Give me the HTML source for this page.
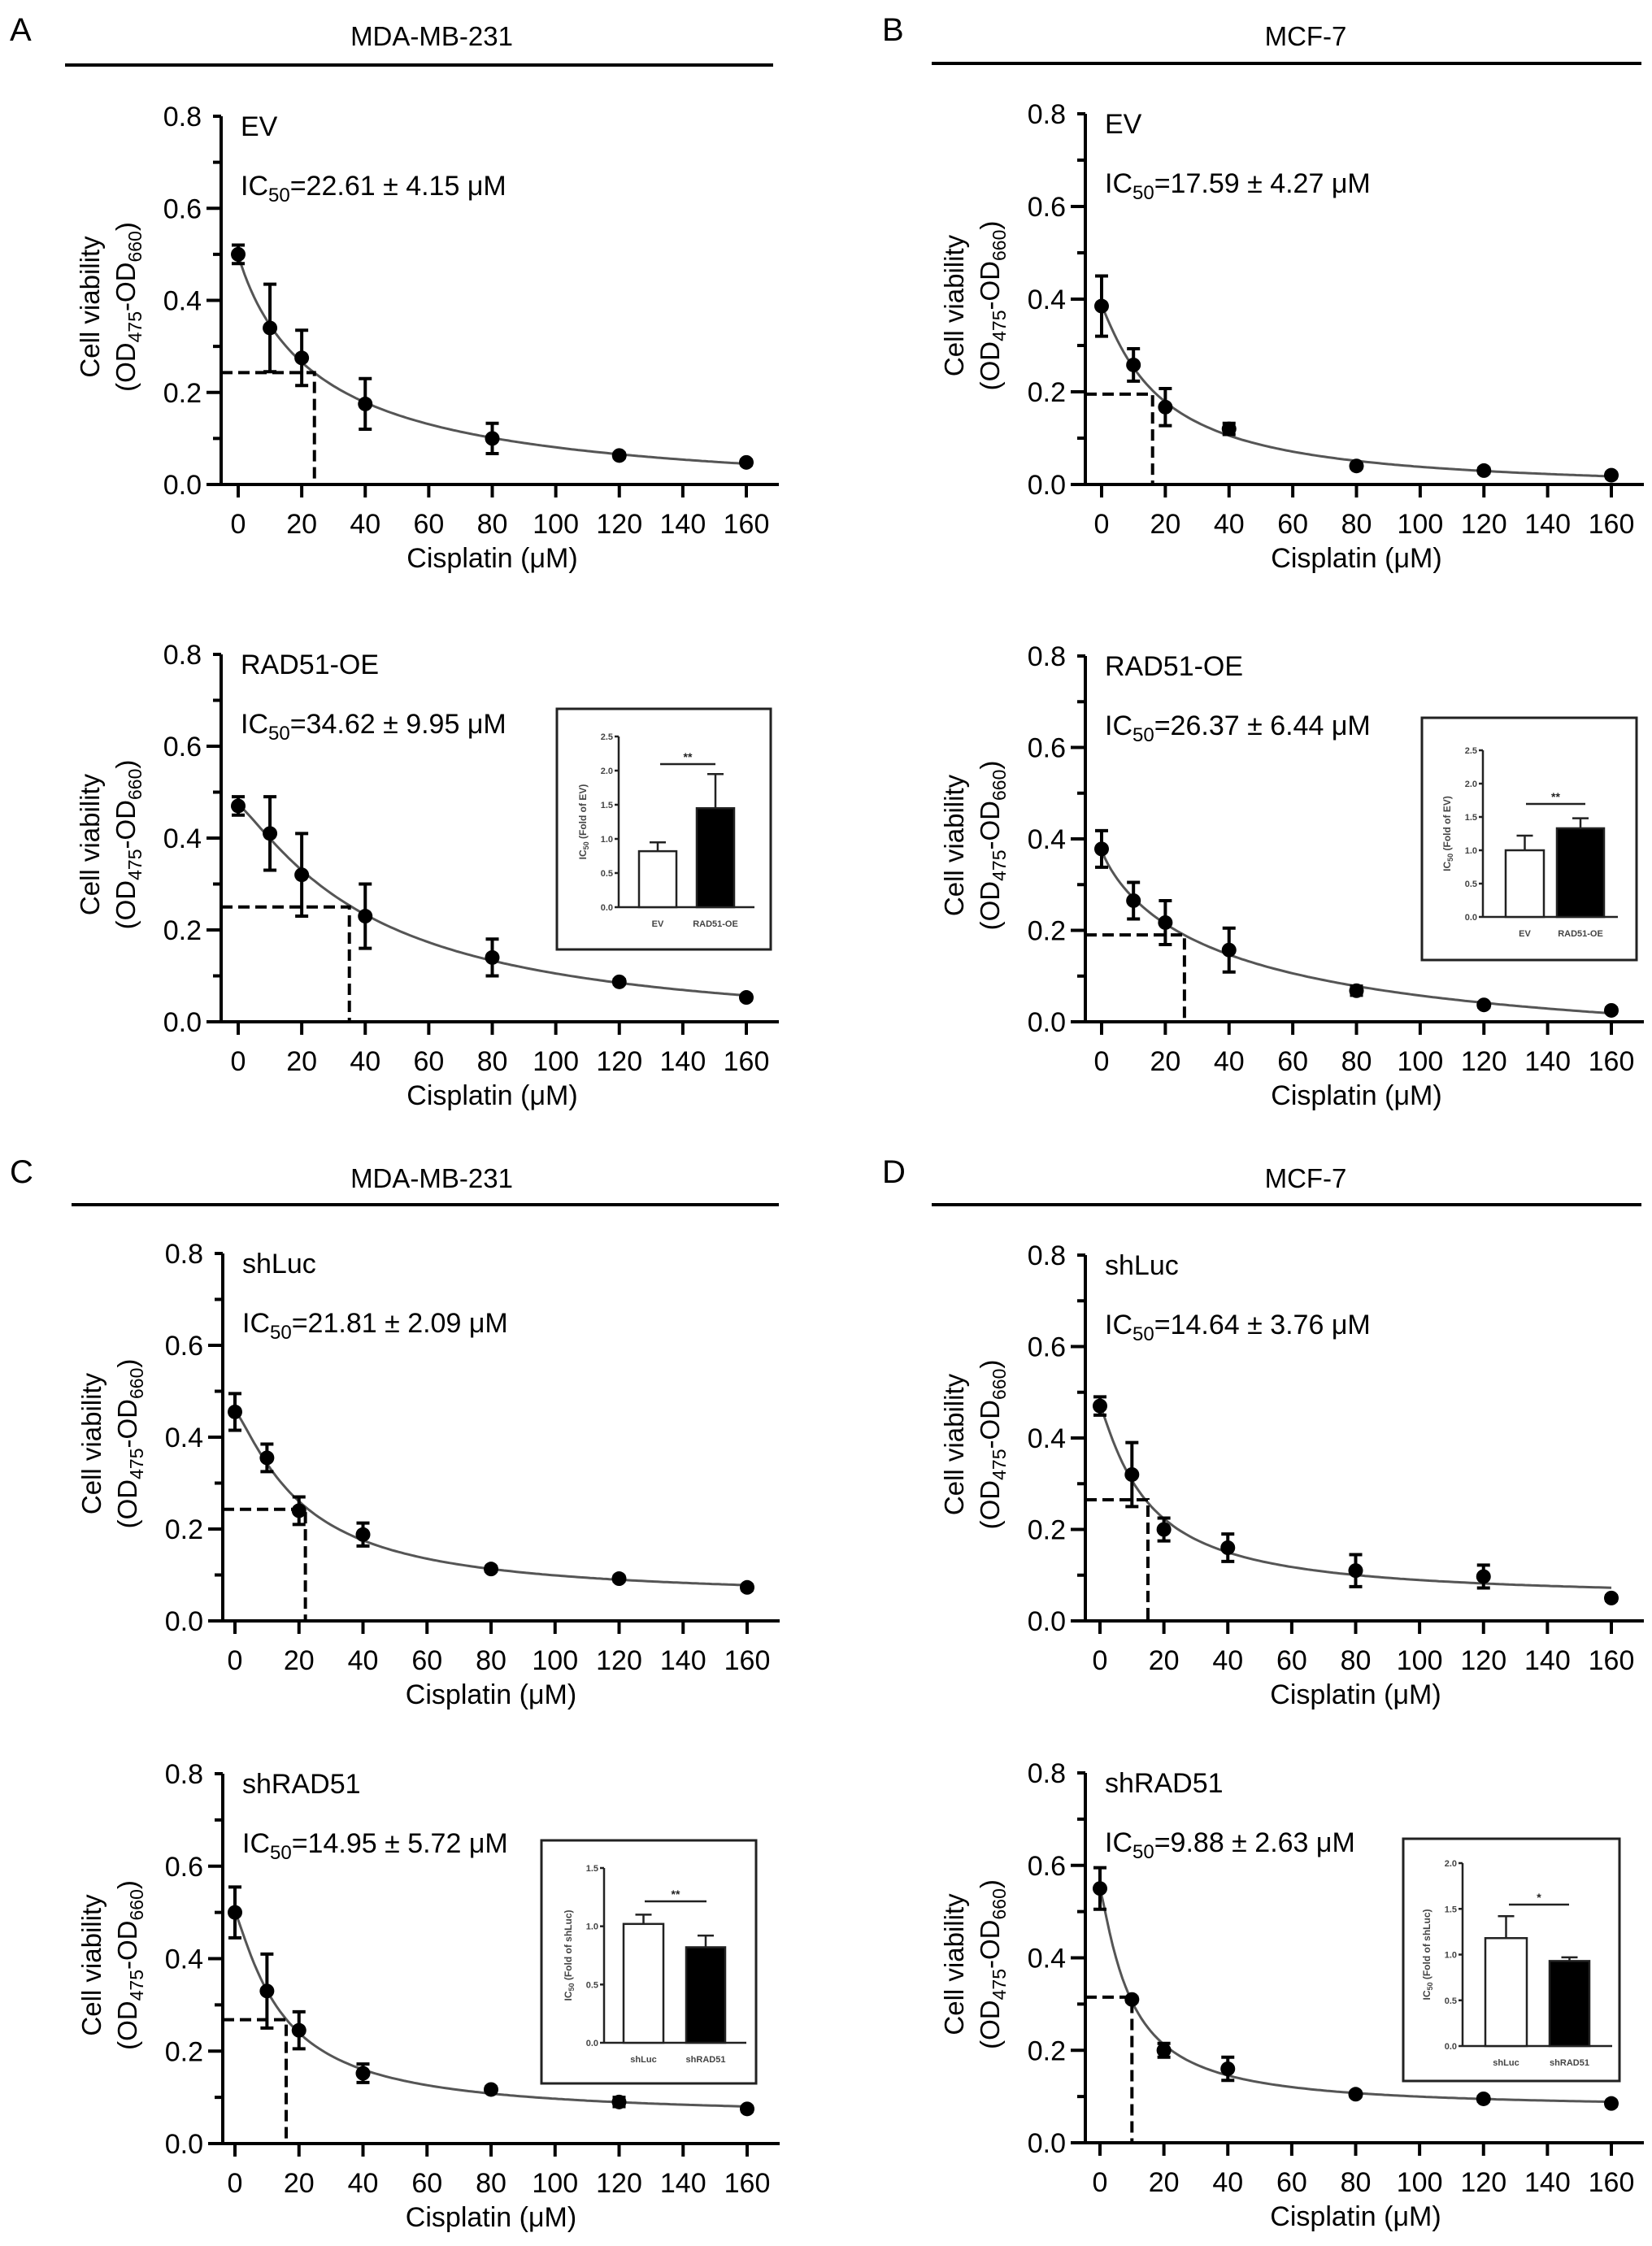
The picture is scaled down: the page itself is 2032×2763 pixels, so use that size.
<!DOCTYPE html>
<html><head><meta charset="utf-8"><style>
html,body{margin:0;padding:0;background:#fff;}
svg{display:block;font-family:"Liberation Sans",Arial,sans-serif;}
</style></head><body>
<svg id="fig" width="2032" height="2763" viewBox="0 0 2032 2763" xmlns="http://www.w3.org/2000/svg">
<g>
<text x="12" y="50" font-size="40">A</text>
<text x="531" y="56" font-size="33" text-anchor="middle">MDA-MB-231</text>
<line x1="80" y1="80" x2="951" y2="80" stroke="#000" stroke-width="4"/>
</g>
<g>
<text x="1085" y="50" font-size="40">B</text>
<text x="1606" y="56" font-size="33" text-anchor="middle">MCF-7</text>
<line x1="1146" y1="78" x2="2019" y2="78" stroke="#000" stroke-width="4"/>
</g>
<g>
<text x="12" y="1455" font-size="40">C</text>
<text x="531" y="1461" font-size="33" text-anchor="middle">MDA-MB-231</text>
<line x1="88" y1="1482" x2="958" y2="1482" stroke="#000" stroke-width="4"/>
</g>
<g>
<text x="1085" y="1455" font-size="40">D</text>
<text x="1606" y="1461" font-size="33" text-anchor="middle">MCF-7</text>
<line x1="1146" y1="1482" x2="2019" y2="1482" stroke="#000" stroke-width="4"/>
</g>
</svg>
<script>
// ---- data ----
const doses = [0, 10, 20, 40, 80, 120, 160];
const xTicks = [0, 20, 40, 60, 80, 100, 120, 140, 160];
const yTicks = [0.0, 0.2, 0.4, 0.6, 0.8];
const yTickLabels = ["0.0", "0.2", "0.4", "0.6", "0.8"];

const aEvMeans = [0.50, 0.34, 0.275, 0.175, 0.10, 0.063, 0.048];
const aEvErr   = [0.02, 0.095, 0.06, 0.055, 0.033, 0.005, 0.005];
const aOeMeans = [0.47, 0.41, 0.32, 0.23, 0.14, 0.087, 0.053];
const aOeErr   = [0.02, 0.08, 0.09, 0.07, 0.04, 0.005, 0.005];
const bEvMeans = [0.385, 0.258, 0.167, 0.12, 0.04, 0.03, 0.02];
const bEvErr   = [0.065, 0.035, 0.04, 0.012, 0.005, 0.005, 0.005];
const bOeMeans = [0.378, 0.265, 0.217, 0.157, 0.068, 0.037, 0.025];
const bOeErr   = [0.04, 0.04, 0.048, 0.048, 0.01, 0.005, 0.005];
const cLucMeans = [0.455, 0.355, 0.24, 0.188, 0.113, 0.092, 0.073];
const cLucErr   = [0.04, 0.03, 0.03, 0.025, 0.005, 0.005, 0.005];
const cShMeans  = [0.50, 0.33, 0.245, 0.152, 0.117, 0.09, 0.075];
const cShErr    = [0.055, 0.08, 0.04, 0.02, 0.005, 0.01, 0.005];
const dLucMeans = [0.47, 0.32, 0.20, 0.16, 0.11, 0.097, 0.05];
const dLucErr   = [0.02, 0.07, 0.025, 0.03, 0.035, 0.025, 0.005];
const dShMeans  = [0.55, 0.31, 0.20, 0.16, 0.105, 0.095, 0.085];
const dShErr    = [0.045, 0.005, 0.015, 0.025, 0.005, 0.005, 0.005];

const ic50Values = [24, 35, 16, 26, 22, 16, 15, 10];
const ic50Levels = [0.243, 0.25, 0.195, 0.19, 0.243, 0.268, 0.265, 0.315];
const groupLabels = ["EV", "RAD51-OE", "EV", "RAD51-OE", "shLuc", "shRAD51", "shLuc", "shRAD51"];
const ic50Texts = ["22.61 \u00b1 4.15", "34.62 \u00b1 9.95", "17.59 \u00b1 4.27", "26.37 \u00b1 6.44",
                   "21.81 \u00b1 2.09", "14.95 \u00b1 5.72", "14.64 \u00b1 3.76", "9.88 \u00b1 2.63"];

const insetOeCats = ["EV", "RAD51-OE"];
const insetKdCats = ["shLuc", "shRAD51"];
const insetAMeans = [0.82, 1.45]; const insetAErr = [0.13, 0.50];
const insetBMeans = [1.0, 1.33];  const insetBErr = [0.22, 0.15];
const insetCMeans = [1.02, 0.82]; const insetCErr = [0.08, 0.10];
const insetDMeans = [1.18, 0.93]; const insetDErr = [0.24, 0.04];
const insetAYTicks = [0, 0.5, 1.0, 1.5, 2.0, 2.5];
const insetCYTicks = [0, 0.5, 1.0, 1.5];
const insetDYTicks = [0, 0.5, 1.0, 1.5, 2.0];

const NS = "http://www.w3.org/2000/svg";
const svg = document.getElementById("fig");
function el(tag, attrs, parent) {
  const e = document.createElementNS(NS, tag);
  for (const k in attrs) e.setAttribute(k, attrs[k]);
  (parent || svg).appendChild(e);
  return e;
}
const charts = [
  {id:"a-ev", ax:272, x0:293, x1:918, yb:596, yt:143, m:aEvMeans, e:aEvErr},
  {id:"a-oe", ax:272, x0:293, x1:918, yb:1257, yt:805, m:aOeMeans, e:aOeErr},
  {id:"b-ev", ax:1335, x0:1355, x1:1982, yb:596, yt:140, m:bEvMeans, e:bEvErr},
  {id:"b-oe", ax:1335, x0:1355, x1:1982, yb:1257, yt:807, m:bOeMeans, e:bOeErr},
  {id:"c-luc", ax:274, x0:289, x1:919, yb:1994, yt:1542, m:cLucMeans, e:cLucErr},
  {id:"c-sh", ax:274, x0:289, x1:919, yb:2637, yt:2182, m:cShMeans, e:cShErr},
  {id:"d-luc", ax:1335, x0:1353, x1:1982, yb:1994, yt:1544, m:dLucMeans, e:dLucErr},
  {id:"d-sh", ax:1335, x0:1353, x1:1982, yb:2636, yt:2181, m:dShMeans, e:dShErr}
];

// 4-parameter log-logistic fit
function fit(xs, ys) {
  let best = null;
  const n = xs.length;
  for (let ec = 2; ec < 150; ec *= 1.03) {
    for (let h = 0.5; h <= 3.0; h += 0.05) {
      const f = xs.map(x => 1 / (1 + Math.pow(x / ec, h)));
      let sf=0, sy=0, sff=0, sfy=0;
      for (let i=0;i<n;i++){sf+=f[i];sy+=ys[i];sff+=f[i]*f[i];sfy+=f[i]*ys[i];}
      const a = (n*sfy - sf*sy)/(n*sff - sf*sf);
      const p = (sy - a*sf)/n;
      let err=0; for (let i=0;i<n;i++){const d=p+a*f[i]-ys[i]; err+=d*d;}
      if (!best || err < best.err) best = {ec, h, a, p, err};
    }
  }
  return x => best.p + best.a / (1 + Math.pow(x / best.ec, best.h));
}

charts.forEach((c, ci) => {
  const g = el("g", {});
  
  
  const sx = v => c.x0 + (c.x1 - c.x0) * v / 160;
  const sy = v => c.yb - (c.yb - c.yt) * v / 0.8;
  const ya = el("line", {x1:c.ax, y1:c.yt, x2:c.ax, y2:c.yb+2, stroke:"#000", "stroke-width":4}, g);
  
  
  const xa = el("line", {x1:c.ax-2, y1:c.yb, x2:c.x1+40, y2:c.yb, stroke:"#000", "stroke-width":4}, g);
  
  
  for (let v = 0; v <= 0.8001; v += 0.1) {
    const major = Math.abs(v*10 % 2) < 0.01;
    el("line", {x1:c.ax - (major?18:10), y1:sy(v), x2:c.ax, y2:sy(v), stroke:"#000", "stroke-width":4}, g);
  }
  yTicks.forEach((v, i) => {
    const t = el("text", {x:c.ax-24, y:sy(v)+12, "font-size":34, "text-anchor":"end"}, g);
    t.textContent = yTickLabels[i];
    
    
  });
  xTicks.forEach(v => {
    el("line", {x1:sx(v), y1:c.yb, x2:sx(v), y2:c.yb+16, stroke:"#000", "stroke-width":4}, g);
    const t = el("text", {x:sx(v), y:c.yb+60, "font-size":34, "text-anchor":"middle"}, g);
    t.textContent = String(v);
    
    
  });
  const xt = el("text", {x:(c.x0+c.x1)/2, y:c.yb+102, "font-size":34, "text-anchor":"middle"}, g);
  xt.textContent = "Cisplatin (\u03bcM)";
  
  
  const cy = (c.yt + c.yb)/2 + 8;
  const yt = el("text", {transform:`translate(${c.ax-150},${cy}) rotate(-90)`, "font-size":33, "text-anchor":"middle"}, g);
  yt.innerHTML = '<tspan x="0" y="0">Cell viability</tspan><tspan x="0" y="44">(OD<tspan font-size="23" dy="8">475</tspan><tspan dy="-8">-OD</tspan><tspan font-size="23" dy="8">660</tspan><tspan dy="-8">)</tspan></tspan>';
  
  
  const gl = el("text", {x:c.ax+24, y:c.yt+24, "font-size":34}, g);
  gl.textContent = groupLabels[ci];
  
  
  const it = el("text", {x:c.ax+24, y:c.yt+97, "font-size":34}, g);
  it.innerHTML = 'IC<tspan font-size="24" dy="8">50</tspan><tspan dy="-8">=' + ic50Texts[ci] + ' \u03bcM</tspan>';
  
  
  const fn = fit(doses, c.m);
  let d = "";
  for (let x = 0; x <= 160; x += 1) {
    d += (x ? "L" : "M") + sx(x).toFixed(1) + "," + sy(fn(x)).toFixed(1);
  }
  const cv = el("path", {d, fill:"none", stroke:"#555", "stroke-width":3}, g);
  
  
  const dl = el("path", {d:`M${c.ax},${sy(ic50Levels[ci])}H${sx(ic50Values[ci])}V${c.yb}`, fill:"none", stroke:"#000", "stroke-width":4, "stroke-dasharray":"14,7"}, g);
  
  
  doses.forEach((x, i) => {
    const m = c.m[i], e = c.e[i];
    const eb = el("path", {d:`M${sx(x)},${sy(m-e)}V${sy(m+e)}M${sx(x)-8},${sy(m-e)}h16M${sx(x)-8},${sy(m+e)}h16`, stroke:"#000", "stroke-width":4, fill:"none"}, g);
    
    
    const pt = el("circle", {cx:sx(x), cy:sy(m), r:9, fill:"#000"}, g);
    
    
  });
});

const insets = [
  {id:"a", bx:685, by:872, bw:263, bh:296, ax:761, y0:1116, ytop:906, ymax:2.5, ticks:insetAYTicks, bars:[[786,832],[857,903]], m:insetAMeans, e:insetAErr, cats:insetOeCats, sig:"**", sy:940, sx:[812,880], yl:"(Fold of EV)", xend:928},
  {id:"b", bx:1749, by:883, bw:264, bh:298, ax:1824, y0:1128, ytop:923, ymax:2.5, ticks:insetAYTicks, bars:[[1852,1899],[1915,1973]], m:insetBMeans, e:insetBErr, cats:insetOeCats, sig:"**", sy:989, sx:[1877,1950], yl:"(Fold of EV)", xend:1990},
  {id:"c", bx:666, by:2264, bw:264, bh:299, ax:743, y0:2513, ytop:2298, ymax:1.5, ticks:insetCYTicks, bars:[[767,816],[844,892]], m:insetCMeans, e:insetCErr, cats:insetKdCats, sig:"**", sy:2339, sx:[793,869], yl:"(Fold of shLuc)", xend:918},
  {id:"d", bx:1726, by:2262, bw:266, bh:298, ax:1799, y0:2517, ytop:2292, ymax:2.0, ticks:insetDYTicks, bars:[[1827,1878],[1906,1955]], m:insetDMeans, e:insetDErr, cats:insetKdCats, sig:"*", sy:2343, sx:[1856,1930], yl:"(Fold of shLuc)", xend:1983}
];
insets.forEach(s => {
  const g = el("g", {});
  
  
  el("rect", {x:s.bx, y:s.by, width:s.bw, height:s.bh, fill:"#fff", stroke:"#222", "stroke-width":3}, g);
  const sy = v => s.y0 - (s.y0 - s.ytop) * v / s.ymax;
  el("line", {x1:s.ax, y1:s.ytop, x2:s.ax, y2:s.y0, stroke:"#222", "stroke-width":2.5}, g);
  el("line", {x1:s.ax, y1:s.y0, x2:s.xend, y2:s.y0, stroke:"#222", "stroke-width":2.5}, g);
  s.ticks.forEach(v => {
    el("line", {x1:s.ax-5, y1:sy(v), x2:s.ax, y2:sy(v), stroke:"#222", "stroke-width":2.5}, g);
    const t = el("text", {x:s.ax-7, y:sy(v)+4, "font-size":11, "font-weight":"bold", fill:"#444", "text-anchor":"end"}, g);
    t.textContent = v.toFixed(1);
    
    
  });
  s.bars.forEach((b, i) => {
    const cx = (b[0]+b[1])/2;
    const eb = el("path", {d:`M${cx},${sy(s.m[i])}V${sy(s.m[i]+s.e[i])}M${cx-10},${sy(s.m[i]+s.e[i])}h20`, stroke:"#222", "stroke-width":2.5, fill:"none"}, g);
    
    
    const r = el("rect", {x:b[0], y:sy(s.m[i]), width:b[1]-b[0], height:s.y0-sy(s.m[i]), fill:i?"#000":"#fff", stroke:"#222", "stroke-width":2.5}, g);
    
    
    const t = el("text", {x:cx, y:s.y0+24, "font-size":11, "font-weight":"bold", fill:"#444", "text-anchor":"middle"}, g);
    t.textContent = s.cats[i];
    
    
  });
  el("line", {x1:s.sx[0], y1:s.sy, x2:s.sx[1], y2:s.sy, stroke:"#222", "stroke-width":2.5}, g);
  const st = el("text", {x:(s.sx[0]+s.sx[1])/2, y:s.sy-4, "font-size":14, "font-weight":"bold", fill:"#222", "text-anchor":"middle"}, g);
  st.textContent = s.sig;
  
  
  const yl = el("text", {transform:`translate(${s.ax-40},${(s.y0+s.ytop)/2}) rotate(-90)`, "font-size":12, "font-weight":"bold", fill:"#444", "text-anchor":"middle"}, g);
  yl.innerHTML = 'IC<tspan font-size="9" dy="3">50</tspan><tspan dy="-3"> ' + s.yl + '</tspan>';
  
  
});
</script>
</body></html>
